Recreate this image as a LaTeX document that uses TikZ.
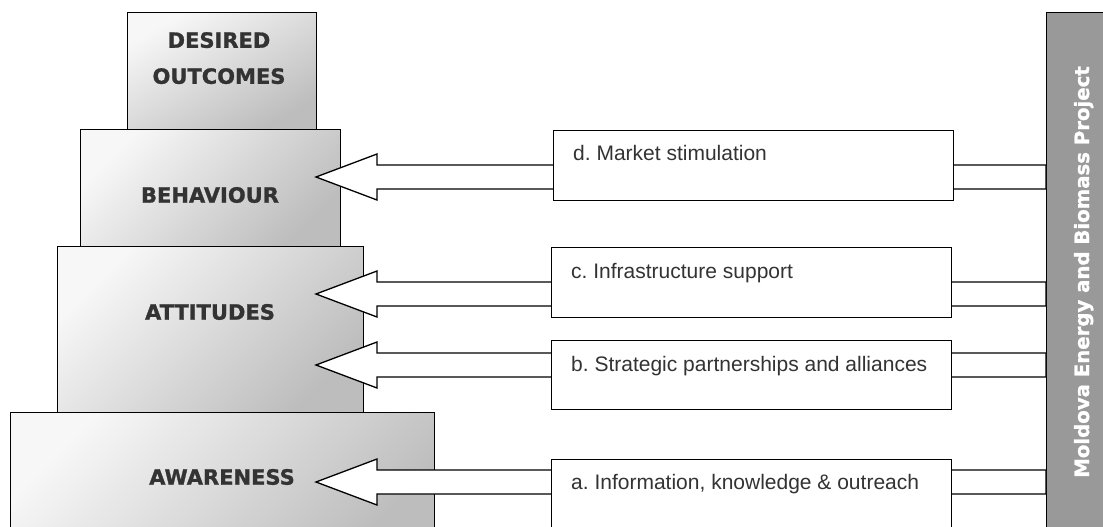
\documentclass[tikz,border=0pt]{standalone}
\usepackage{fontspec}
\setmainfont{Liberation Sans}
\newfontfamily\heavyfont{DejaVu Sans Bold}[FakeBold=1.2]
\usepackage{xcolor}
\usepackage{tikz}
\usetikzlibrary{positioning,calc}
\frenchspacing

\definecolor{txtgray}{HTML}{333333}
\definecolor{bargray}{HTML}{999999}

\tikzset{
    level/.style={draw, line width=1.4pt, top color=white!97!black, bottom color=black!26,
        shading angle=45, anchor=north west, inner sep=0pt},
    leveltxt/.style={font=\heavyfont\fontsize{21}{36}\selectfont, text=txtgray,
        align=center, inner sep=0pt},
    actbox/.style={draw, line width=1.3pt, fill=white, minimum width=400pt,
        anchor=north west, inner sep=0pt},
    acttxt/.style={font=\fontsize{21}{25}\selectfont, text=txtgray, anchor=base west, inner sep=0pt},
    blockarrow/.style={draw, line width=1.3pt, fill=white, line join=miter},
}

\begin{document}
\begin{tikzpicture}[x=1pt, y=-1pt]
    \useasboundingbox (0,0) rectangle (1103,527);
    \clip (0,0) rectangle (1103,527);

    % Pyramid of outcomes
    \node[level, minimum width=424pt, minimum height=140pt] (aware) at (10,412) {};
    \node[level, minimum width=306pt, minimum height=166pt] (attit) at (57,246) {};
    \node[level, minimum width=260pt, minimum height=117pt] (behav) at (80,129) {};
    \node[level, shading angle=30, minimum width=189pt, minimum height=117pt] (desired) at (127,12) {};

    \node[leveltxt, anchor=north] (desiredlbl) at (219,32) {DESIRED\\OUTCOMES};
    \node[leveltxt] (behavlbl) at (210,195) {BEHAVIOUR};
    \node[leveltxt] (attitlbl) at (210,312) {ATTITUDES};
    \node[leveltxt] (awarelbl) at (222,477) {AWARENESS};

    % Project bar
    \node[draw, line width=1.4pt, fill=bargray, anchor=north west, inner sep=0pt,
        minimum width=80pt, minimum height=540pt] (mebp) at (1046,12) {};
    \node[font=\heavyfont\fontsize{19.7}{24}\selectfont, text=white, rotate=90,
        anchor=base, inner sep=0pt] (mebplbl) at (1089,272) {Moldova Energy and Biomass Project};

    % Block arrows from the project to the pyramid
    \foreach \tip/\yy in {tipd/177, tipc/294, tipb/365, tipa/482} {
        \coordinate (\tip) at (316,\yy);
        \draw[blockarrow] (\tip) -- ++(61,-23) -- ++(0,11)
            -- ($(mebp.west |- \tip)+(0,-12)$) -- ++(0,24)
            -- ($(\tip)+(61,12)$) -- ++(0,11) -- cycle;
    }

    % Activities
    \node[actbox, minimum height=70pt] (boxd) at (553,130) {};
    \node[actbox, minimum height=70pt] (boxc) at (551,247) {};
    \node[actbox, minimum height=69pt] (boxb) at (551,340) {};
    \node[actbox, minimum height=90pt] (boxa) at (551,459) {};

    \node[acttxt] (txtd) at ($(boxd.north west)+(20,30)$) {d. Market stimulation};
    \node[acttxt] (txtc) at ($(boxc.north west)+(20,31)$) {c. Infrastructure support};
    \node[acttxt] (txtb) at ($(boxb.north west)+(20,31)$) {b. Strategic partnerships and alliances};
    \node[acttxt] (txta) at ($(boxa.north west)+(20,30)$) {a. Information, knowledge \& outreach};
\end{tikzpicture}
\end{document}
